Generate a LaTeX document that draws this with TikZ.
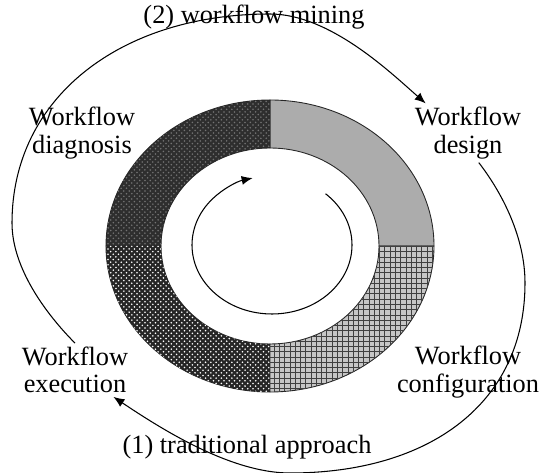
\documentclass[tikz,border=0pt]{standalone}
\usepackage{fontspec}
\setmainfont{Liberation Serif}
\usetikzlibrary{arrows.meta,patterns}

\begin{document}
\begin{tikzpicture}[x=0.02cm,y=0.02cm,
 phase/.style={align=center,font=\fontsize{15}{15.5}\selectfont,inner sep=2pt},
 roundtrip/.style={line width=0.6pt,-{Latex[length=2.2mm,width=1.8mm]}},
 ring/.style={draw=black!85,line width=0.5pt}]
 \useasboundingbox (0,0) rectangle (548,473);
 \coordinate (ctr) at (270,227);
 % the four phases of the ring
 \path[ring,fill=gray!65] (ctr) ++(0:164 and 146) arc[start angle=0,end angle=90,x radius=164,y radius=146] -- ++(0,-48) arc[start angle=90,end angle=0,x radius=109,y radius=98] -- cycle;
 \path[ring,fill=black!82,postaction={pattern=crosshatch dots,pattern color=black!55}] (ctr) ++(90:164 and 146) arc[start angle=90,end angle=180,x radius=164,y radius=146] -- ++(55,0) arc[start angle=180,end angle=90,x radius=109,y radius=98] -- cycle;
 \path[ring,fill=black!85,postaction={pattern=crosshatch dots,pattern color=white}] (ctr) ++(180:164 and 146) arc[start angle=180,end angle=270,x radius=164,y radius=146] -- ++(0,48) arc[start angle=270,end angle=180,x radius=109,y radius=98] -- cycle;
 \path[ring,fill=gray!45,postaction={pattern=grid,pattern color=black!75}] (ctr) ++(270:164 and 146) arc[start angle=270,end angle=360,x radius=164,y radius=146] -- ++(-55,0) arc[start angle=360,end angle=270,x radius=109,y radius=98] -- cycle;
 % inner cycle
 \draw[roundtrip] (272,228) ++(48:80 and 69) arc[start angle=48,end angle=-256,x radius=80,y radius=69];
 % labels
 \node[phase] (lbl diag) at (82,340) {Workflow\\diagnosis};
 \node[phase] (lbl des) at (468,340) {Workflow\\design};
 \node[phase] (lbl exe) at (75,103) {Workflow\\execution};
 \node[phase] (lbl conf) at (468,101) {Workflow\\configuration};
 \node[phase] (lbl mine) at (254,456) {(2) workflow mining};
 \node[phase] (lbl trad) at (247,26) {(1) traditional approach};
 % outer cycles
 \draw[roundtrip] (lbl exe.north) .. controls (46,159) and (12,205) .. (12,250) .. controls (12,375) and (120,459) .. (270,459) .. controls (330,459) and (391,400) .. (lbl des.145);
 \draw[roundtrip] (lbl des.-70) .. controls (503,279) and (525,235) .. (525,190) .. controls (525,70) and (430,0) .. (290,0) .. controls (230,0) and (160,45) .. (lbl exe.-35);
\end{tikzpicture}
\end{document}
